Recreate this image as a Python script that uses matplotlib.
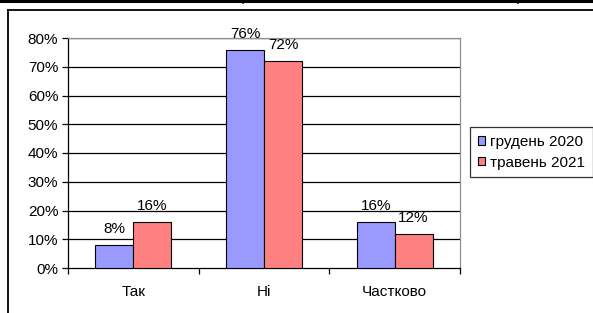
import matplotlib
matplotlib.use("Agg")
import matplotlib.pyplot as plt
import numpy as np
from matplotlib.lines import Line2D
from matplotlib.patches import Patch

categories = ["Так", "Ні", "Частково"]
series_names = ["грудень 2020", "травень 2021"]
dec2020 = [8, 76, 16]
may2021 = [16, 72, 12]
yticks = [0, 10, 20, 30, 40, 50, 60, 70, 80]

plt.rcParams['font.family'] = ['Liberation Sans', 'DejaVu Sans']
FS = 11

W, H = 593, 313
fig = plt.figure(figsize=(W/100, H/100), dpi=100)

def fx(px): return px / W
def fy(py): return 1 - py / H

# outer decorative frame lines
fig.add_artist(Line2D([0, 1], [fy(1), fy(1)], color='black', lw=2.2, transform=fig.transFigure))
fig.add_artist(Line2D([fx(243), fx(243)], [fy(0), fy(3)], color='black', lw=1.2, transform=fig.transFigure))
fig.add_artist(Line2D([fx(518), fx(518)], [fy(0), fy(3)], color='black', lw=1.2, transform=fig.transFigure))
fig.add_artist(Line2D([fx(7.5), 1], [fy(9.5), fy(9.5)], color='black', lw=1.3, transform=fig.transFigure))
fig.add_artist(Line2D([fx(7.5), fx(7.5)], [fy(9.5), 0], color='black', lw=1.3, transform=fig.transFigure))

ax = fig.add_axes([fx(68), fy(268), (460-68)/W, (268-38)/H])

x = np.arange(len(categories))
bw = 0.29
c1, c2 = '#9999FF', '#FF8080'
b1 = ax.bar(x - bw/2, dec2020, bw, color=c1, edgecolor='black', linewidth=0.8, zorder=3)
b2 = ax.bar(x + bw/2, may2021, bw, color=c2, edgecolor='black', linewidth=0.8, zorder=3)

for bars, vals in ((b1, dec2020), (b2, may2021)):
    for rect, v in zip(bars, vals):
        ax.annotate(f"{v}%", (rect.get_x() + rect.get_width()/2, v), xytext=(0, 8.3),
                    textcoords='offset points', ha='center', va='baseline', fontsize=FS,
                    zorder=4, annotation_clip=False)

ax.set_xlim(-0.5, 2.5)
ax.set_ylim(0, 80)
ax.set_yticks(yticks)
ax.set_yticklabels([f"{t}%" for t in yticks], fontsize=FS)
for t in yticks[1:]:
    ax.axhline(t, color='black', lw=0.9, zorder=1)

ax.set_xticks([-0.5, 0.5, 1.5, 2.5])
ax.set_xticklabels([])
ax.set_xticks(x, minor=True)
ax.set_xticklabels(categories, minor=True, fontsize=FS)
ax.tick_params(axis='x', which='minor', length=0, pad=12.5)
ax.tick_params(axis='x', which='major', direction='out', length=4, width=0.9, colors='black')
ax.tick_params(axis='y', direction='out', length=4, width=0.9, pad=3)

for s in ['left', 'bottom']:
    ax.spines[s].set_color('black')
    ax.spines[s].set_linewidth(0.9)
for s in ['top', 'right']:
    ax.spines[s].set_color('#909090')
    ax.spines[s].set_linewidth(0.9)

handles = [Patch(facecolor=c1, edgecolor='black', linewidth=0.8),
           Patch(facecolor=c2, edgecolor='black', linewidth=0.8)]
leg = fig.legend(handles, series_names, loc='upper left', bbox_to_anchor=(fx(470), fy(127)),
                 fontsize=FS, frameon=True, fancybox=False, edgecolor='black',
                 handlelength=0.5, handleheight=0.5, handletextpad=0.3, labelspacing=0.45,
                 borderpad=0.5, borderaxespad=0)
leg.get_frame().set_linewidth(0.9)

fig.savefig("out.png", dpi=100)
